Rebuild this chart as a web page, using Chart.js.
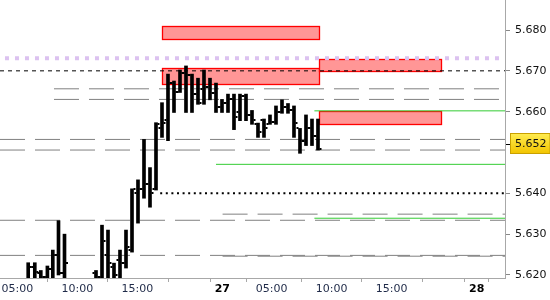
<!DOCTYPE html>
<html>
<head>
<meta charset="utf-8">
<script src="https://cdn.jsdelivr.net/npm/chart.js@4.4.1/dist/chart.umd.min.js"></script>
<style>
  html, body { margin: 0; padding: 0; background: #fff; }
  #wrap { width: 550px; height: 300px; }
</style>
</head>
<body>
<div id="wrap"><canvas id="c"></canvas></div>
<script>
// x is measured in half-hour slots (closed hours squeezed out, like the terminal does)
const barSlot  = [4.7, 5.8, 6.8, 7.9, 8.8, 9.75, 10.75,
  16, 17, 18, 19, 20, 21, 22, 23, 24, 25, 26, 27, 28, 29, 30, 31, 32, 33, 34, 35,
  36, 37, 38, 39, 40, 41, 42, 43, 44, 45, 46, 47, 48, 49, 50, 51, 52, 53];
const barOpen  = [5.6190, 5.6220, 5.6205, 5.6195, 5.6215, 5.6249, 5.6205,
  5.6206, 5.6195, 5.6249, 5.6220, 5.6237, 5.6230, 5.6260, 5.6400, 5.6411, 5.6423, 5.6410, 5.6560, 5.6580,
  5.6670, 5.6649, 5.6695, 5.6690, 5.6643, 5.6656, 5.6660, 5.6646, 5.6611, 5.6621, 5.6630, 5.6600, 5.6638,
  5.6592, 5.6570, 5.6580, 5.6570, 5.6575, 5.6600, 5.6612, 5.6605, 5.6560, 5.6529, 5.6560, 5.6540];
const barHigh  = [5.6230, 5.6230, 5.6211, 5.6222, 5.6261, 5.6333, 5.6300,
  5.6211, 5.6322, 5.6310, 5.6229, 5.6261, 5.6310, 5.6411, 5.6433, 5.6532, 5.6463, 5.6573, 5.6622, 5.6692,
  5.6675, 5.6702, 5.6712, 5.6692, 5.6682, 5.6702, 5.6682, 5.6670, 5.6630, 5.6643, 5.6643, 5.6643, 5.6643,
  5.6603, 5.6572, 5.6582, 5.6592, 5.6614, 5.6629, 5.6620, 5.6614, 5.6559, 5.6592, 5.6582, 5.6582];
const barLow   = [5.6180, 5.6180, 5.6180, 5.6180, 5.6180, 5.6200, 5.6193,
  5.6180, 5.6180, 5.6180, 5.6180, 5.6180, 5.6217, 5.6256, 5.6327, 5.6388, 5.6366, 5.6408, 5.6537, 5.6529,
  5.6598, 5.6647, 5.6598, 5.6598, 5.6618, 5.6618, 5.6629, 5.6598, 5.6598, 5.6598, 5.6556, 5.6578, 5.6578,
  5.6569, 5.6537, 5.6537, 5.6569, 5.6569, 5.6596, 5.6596, 5.6537, 5.6498, 5.6517, 5.6517, 5.6506];
const barClose = [5.6220, 5.6208, 5.6195, 5.6215, 5.6249, 5.6205, 5.6230,
  5.6195, 5.6282, 5.6230, 5.6200, 5.6230, 5.6269, 5.6411, 5.6411, 5.6423, 5.6401, 5.6570, 5.6572, 5.6670,
  5.6649, 5.6695, 5.6690, 5.6643, 5.6621, 5.6660, 5.6646, 5.6611, 5.6621, 5.6630, 5.6588, 5.6638, 5.6592,
  5.6580, 5.6551, 5.6560, 5.6575, 5.6600, 5.6612, 5.6605, 5.6572, 5.6529, 5.6560, 5.6540, 5.6509];

const lastPrice = 5.652;

// axis ticks
const xTickSlot  = [2.88, 12.88, 22.88, 33.2, 37.05, 45.28, 55.28, 65.28, 75.45, 79.45];
const xTickLabel = ['05:00', '10:00', '15:00', '', '27', '05:00', '10:00', '15:00', '', '28'];
const yTickValue = [5.620, 5.630, 5.640, 5.652, 5.660, 5.670, 5.680];

// zones (red boxes)
const zoneFrom = [27.05, 27.05, 53.2, 53.2];
const zoneTo   = [53.2, 53.2, 73.45, 73.45];
const zoneLow  = [5.6777, 5.6667, 5.6700, 5.6569];
const zoneHigh = [5.6809, 5.6707, 5.6728, 5.6602];

// horizontal levels
const grayLevel = [5.6656, 5.6630, 5.6532, 5.6506, 5.6349, 5.6334, 5.6248, 5.6246];
const grayFrom  = [9, 9, 0, 0, 37.1, 0, 0, 37.1];
const greenLevel = [5.6602, 5.6471, 5.6339];
const greenFrom  = [52.4, 36, 52.4];
const blackDashLevel = 5.6700;
const blackDotLevel = 5.6400;
const blackDotFrom = 26.7;
const purpleLevel = 5.6731;

const X_MAX = 84.17;
const Y_MIN = 5.61926, Y_MAX = 5.68735;

function hline(y, from, to, color, width, dash) {
  return {
    type: 'line',
    data: [{ x: from, y: y }, { x: to, y: y }],
    borderColor: color,
    borderWidth: width,
    borderDash: dash,
    pointRadius: 0,
    fill: false,
    order: 2
  };
}

const datasets = [];
datasets.push({
  type: 'bar',
  data: barSlot.map((s, i) => ({ x: s, y: [barLow[i], barHigh[i]] })),
  backgroundColor: '#000',
  barThickness: 3,
  grouped: false,
  order: 1
});
grayLevel.forEach((v, i) => datasets.push(hline(v, grayFrom[i], X_MAX, '#808080', 1, [25, 10])));
greenLevel.forEach((v, i) => datasets.push(hline(v, greenFrom[i], X_MAX, '#33cc33', 1, [])));
datasets.push(hline(blackDashLevel, 0, X_MAX, '#000', 1, [4, 4]));
datasets.push(hline(blackDotLevel, blackDotFrom, X_MAX, '#000', 2, [2, 3.6]));
datasets.push(hline(purpleLevel, 0.83, 83.4, '#dcc2f0', 4, [4, 6]));

const zonePlugin = {
  id: 'zones',
  beforeDatasetsDraw(chart) {
    const { ctx, scales: { x, y } } = chart;
    ctx.save();
    zoneFrom.forEach((f, i) => {
      const x0 = Math.round(x.getPixelForValue(f)) + 0.5;
      const x1 = Math.round(x.getPixelForValue(zoneTo[i])) + 0.5;
      const y0 = Math.round(y.getPixelForValue(zoneHigh[i])) + 0.5;
      const y1 = Math.round(y.getPixelForValue(zoneLow[i])) + 0.5;
      ctx.fillStyle = '#ff9696';
      ctx.fillRect(x0, y0, x1 - x0, y1 - y0);
      ctx.strokeStyle = '#ff0000';
      ctx.lineWidth = 1.3;
      ctx.strokeRect(x0, y0, x1 - x0, y1 - y0);
    });
    ctx.restore();
  }
};

const ohlcTicks = {
  id: 'ohlcTicks',
  afterDatasetsDraw(chart) {
    const { ctx, chartArea, scales: { x, y } } = chart;
    ctx.save();
    ctx.beginPath();
    ctx.rect(chartArea.left, chartArea.top, chartArea.right - chartArea.left, chartArea.bottom - chartArea.top);
    ctx.clip();
    ctx.fillStyle = '#000';
    barSlot.forEach((s, i) => {
      const px = x.getPixelForValue(s);
      const yo = Math.round(y.getPixelForValue(barOpen[i]));
      const yc = Math.round(y.getPixelForValue(barClose[i]));
      ctx.fillRect(px - 3.5, yo - 1, 2, 2);
      ctx.fillRect(px + 1.5, yc - 1, 2, 2);
    });
    ctx.restore();
  }
};

const priceTag = {
  id: 'priceTag',
  beforeDraw(chart) {
    const { ctx, scales: { y } } = chart;
    const py = Math.round(y.getPixelForValue(lastPrice));
    const left = y.left + 5.5;
    const top = py - 10.5;
    const g = ctx.createLinearGradient(0, top, 0, top + 20);
    g.addColorStop(0, '#ffec50');
    g.addColorStop(1, '#f2c400');
    ctx.save();
    ctx.fillStyle = g;
    ctx.fillRect(left, top, 550 - left, 20);
    ctx.strokeStyle = '#c9a000';
    ctx.lineWidth = 1;
    ctx.strokeRect(left, top, 550 - left, 20);
    ctx.restore();
  }
};

new Chart(document.getElementById('c'), {
  type: 'bar',
  data: { datasets: datasets },
  options: {
    responsive: true,
    maintainAspectRatio: false,
    animation: false,
    layout: { padding: 0 },
    plugins: { legend: { display: false }, tooltip: { enabled: false } },
    scales: {
      x: {
        type: 'linear',
        min: 0,
        max: X_MAX,
        offset: false,
        grid: { drawOnChartArea: false, drawTicks: true, tickLength: 4, color: '#a8a8a8' },
        border: { color: '#a8a8a8' },
        afterBuildTicks: (s) => { s.ticks = xTickSlot.map(v => ({ value: v })); },
        afterFit: (s) => { s.height = 22; s.paddingLeft = 0; s.paddingRight = 0; },
        ticks: {
          autoSkip: false,
          maxRotation: 0,
          padding: 1,
          callback: (v, i) => xTickLabel[i],
          color: (c) => (c.index === 4 || c.index === 9) ? '#000' : '#1f2a48',
          font: (c) => ({ family: 'DejaVu Sans', size: 11,
            weight: (c.index === 4 || c.index === 9) ? 'bold' : 'normal' })
        }
      },
      y: {
        type: 'linear',
        position: 'right',
        min: Y_MIN,
        max: Y_MAX,
        grid: {
          drawOnChartArea: false, drawTicks: true, tickLength: 5,
          color: (c) => (c.tick && c.tick.value === lastPrice) ? '#000' : '#888'
        },
        border: { color: '#a8a8a8' },
        afterBuildTicks: (s) => { s.ticks = yTickValue.map(v => ({ value: v })); },
        afterFit: (s) => { s.width = 45; s.paddingTop = 0; s.paddingBottom = 0; },
        ticks: {
          padding: 5,
          color: '#111',
          font: { family: 'DejaVu Sans', size: 11 },
          callback: (v) => Number(v).toFixed(3)
        }
      }
    }
  },
  plugins: [zonePlugin, ohlcTicks, priceTag]
});
</script>
</body>
</html>
